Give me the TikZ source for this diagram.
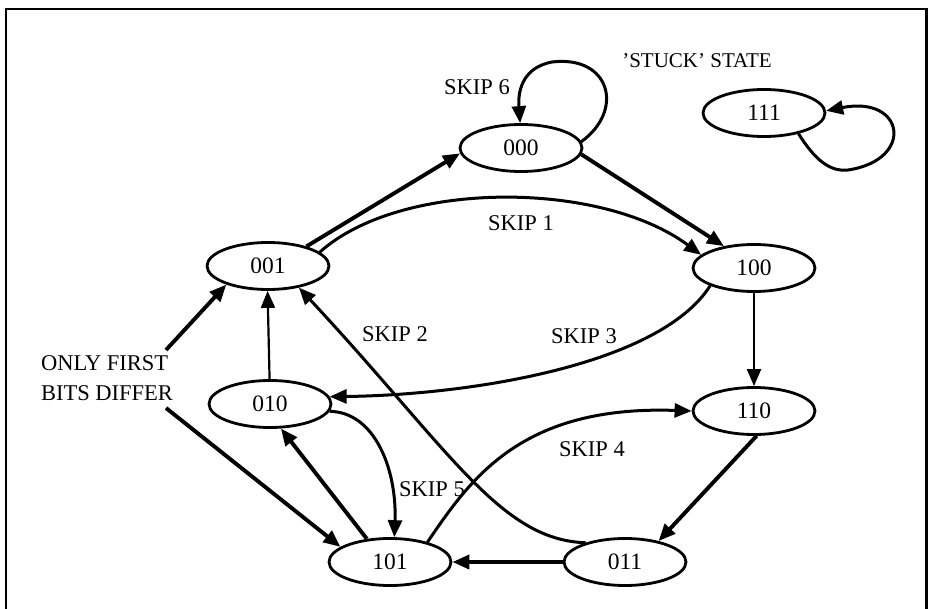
\documentclass[tikz,border=0pt]{standalone}
\usepackage{fontspec}
\setmainfont{Liberation Serif}
\usetikzlibrary{shapes.geometric,arrows.meta}
\begin{document}
\begin{tikzpicture}[x=1pt,y=-1pt,
  stnode/.style={ellipse,draw,line width=2.8pt,minimum width=122pt,minimum height=47pt,inner sep=0pt,font=\fontsize{23.5}{23.5}\selectfont},
  lbl/.style={font=\fontsize{22.5}{22.5}\selectfont,inner sep=0pt},
  tipstyle/.style={-{Triangle[length=17pt,width=14pt]}},
  bigarrow/.style={tipstyle,line width=3.9pt},
  midarrow/.style={tipstyle,line width=3pt},
  thinarrow/.style={tipstyle,line width=2.2pt}]
\fill[white] (0,0) rectangle (929,609);
\useasboundingbox (0,0) rectangle (929,609);
\draw[line width=2.6pt] (6,609) -- (6,9) -- (926.5,9) -- (926.5,609);

% states
\node[stnode] (n000) at (521,148) {000};
\node[stnode] (n111) at (764,113) {111};
\node[stnode] (n001) at (268,266) {001};
\node[stnode] (n100) at (754,268) {100};
\node[stnode] (n010) at (270,404) {010};
\node[stnode] (n110) at (754,411) {110};
\node[stnode] (n101) at (390,562) {101};
\node[stnode] (n011) at (625,562) {011};

% labels
\node[lbl] (s6) at (477,87) {SKIP 6};
\node[lbl,font=\fontsize{21}{21}\selectfont] (stuck) at (697,61) {'STUCK' STATE};
\node[lbl] (s1) at (521,223) {SKIP 1};
\node[lbl] (s2) at (395,334) {SKIP 2};
\node[lbl] (s3) at (584,336) {SKIP 3};
\node[lbl] (s4) at (592,449) {SKIP 4};
\node[lbl] (s5) at (432,489) {SKIP 5};
\node[lbl,align=left,font=\fontsize{22.5}{30}\selectfont] (bits) at (107,378) {ONLY FIRST\\BITS DIFFER};
\coordinate (bitsA) at (166,350);
\coordinate (bitsB) at (166,408);

% transitions
\draw[bigarrow] (n001.27) -- (n000.185);
\draw[midarrow] (n001.15) .. controls (400,180) and (600,180) .. (n100.166);
\draw[bigarrow] (n000.-6) -- (n100.144);
\draw[midarrow] (n000.6) .. controls (625,110) and (610,55) .. (552,62) .. controls (520,68) and (518,95) .. (n000.92);
\draw[thinarrow] (n100.south) -- (n110.north);
\draw[midarrow] (n100.202) .. controls (660,365) and (470,395) .. (n010.7);
\draw[thinarrow] (n010.91) -- (n001.269);
\draw[bigarrow] (bitsA) -- (n001.204);
\draw[bigarrow] (bitsB) -- (n101.163);
\draw[bigarrow] (n101.135) -- (n010.294);
\draw[midarrow] (n010.353) .. controls (375,412) and (397,470) .. (n101.80);
\draw[midarrow] (n101.28) .. controls (470,480) and (520,405) .. (n110.west);
\draw[midarrow] (n011.154) .. controls (500,540) and (450,450) .. (n001.-35);
\draw[bigarrow] (n110.-84) -- (n011.32);
\draw[bigarrow] (n011.west) -- (n101.east);
\draw[midarrow] (n111.-31) .. controls (815,160) and (830,172) .. (848,170) .. controls (915,160) and (905,95) .. (n111.2);
\end{tikzpicture}
\end{document}
